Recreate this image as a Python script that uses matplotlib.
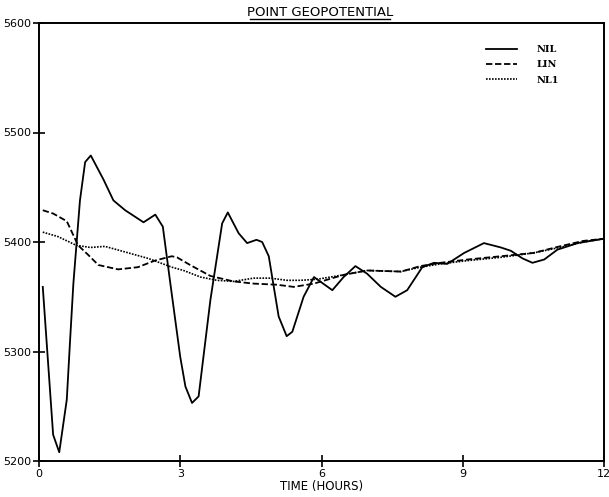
import matplotlib
matplotlib.use("Agg")
import matplotlib.pyplot as plt
from matplotlib.lines import Line2D

# ---- data ----
t_nil = [0.08, 0.30, 0.43, 0.59, 0.66, 0.73, 0.87, 0.98, 1.10, 1.37, 1.58, 1.83, 2.22, 2.47,
         2.63, 2.79, 3.00, 3.11, 3.25, 3.39, 3.64, 3.89, 4.01, 4.24, 4.42, 4.62, 4.74,
         4.88, 5.09, 5.26, 5.38, 5.62, 5.84, 6.23, 6.47, 6.72, 6.97, 7.26, 7.57, 7.82,
         8.14, 8.39, 8.67, 9.03, 9.45, 9.81, 10.02, 10.27, 10.48, 10.73, 11.01, 11.44, 12.0]
v_nil = [5359, 5224, 5208, 5256, 5310, 5362, 5438, 5473, 5479, 5457, 5438, 5429, 5418, 5425,
         5414, 5362, 5295, 5268, 5253, 5259, 5347, 5417, 5427, 5408, 5399, 5402, 5400,
         5387, 5332, 5314, 5318, 5350, 5368, 5356, 5368, 5378, 5371, 5359, 5350, 5356,
         5377, 5381, 5380, 5390, 5399, 5395, 5392, 5385, 5381, 5384, 5393, 5399, 5403]

t_lin = [0.08, 0.30, 0.59, 0.83, 1.05, 1.26, 1.68, 2.10, 2.46, 2.82, 2.93, 3.21, 3.64, 4.13,
         4.56, 5.05, 5.41, 5.84, 6.47, 6.97, 7.69, 8.10, 8.53, 9.10, 9.81, 10.50, 11.06,
         11.56, 12.0]
v_lin = [5429, 5426, 5419, 5397, 5388, 5379, 5375, 5377, 5383, 5387, 5386, 5379, 5369, 5364,
         5362, 5361, 5359, 5362, 5370, 5374, 5373, 5378, 5381, 5384, 5387, 5390, 5396,
         5401, 5403]

t_nl1 = [0.08, 0.40, 0.79, 1.09, 1.40, 1.82, 2.32, 2.82, 3.07, 3.43, 3.78, 4.13, 4.56, 4.91,
         5.27, 5.55, 5.91, 6.47, 6.97, 7.69, 8.10, 8.53, 9.10, 9.81, 10.50, 11.06, 11.56, 12.0]
v_nl1 = [5409, 5405, 5397, 5395, 5396, 5391, 5385, 5377, 5374, 5368, 5365, 5364, 5367, 5367,
         5365, 5365, 5366, 5370, 5374, 5373, 5377, 5380, 5383, 5386, 5390, 5395, 5400, 5403]

x_ticks = [0, 3, 6, 9, 12]
y_ticks = [5200, 5300, 5400, 5500, 5600]
series_names = ["NIL", "LIN", "NL1"]
title = "POINT GEOPOTENTIAL"
x_label = "TIME (HOURS)"

# ---- figure ----
W, H = 609, 497
fig = plt.figure(figsize=(W / 100, H / 100), dpi=100)
ax = fig.add_axes([39 / W, 1 - 461 / H, (604 - 39) / W, (461 - 23) / H])

ax.plot(t_nil, v_nil, color="black", lw=1.3, ls="-", label=series_names[0])
ax.plot(t_lin, v_lin, color="black", lw=1.3, ls=(0, (3.5, 1.5)), label=series_names[1])
ax.plot(t_nl1, v_nl1, color="black", lw=1.2, ls=(0, (1, 0.8)), label=series_names[2])

ax.set_xlim(0, 12)
ax.set_ylim(5200, 5600)
ax.set_xticks(x_ticks)
ax.set_yticks(y_ticks)
ax.set_xticklabels([str(v) for v in x_ticks])
ax.set_yticklabels([str(v) for v in y_ticks])
for lab in ax.get_xticklabels() + ax.get_yticklabels():
    lab.set_fontfamily("DejaVu Sans")
    lab.set_fontsize(8)
ax.tick_params(direction="inout", length=9, width=1.2, pad=1, colors="black")
for s in ax.spines.values():
    s.set_linewidth(1.4)

ax.set_xlabel(x_label, fontsize=8.5, family="DejaVu Sans", labelpad=1)

# title with underline
fig.text(320 / W, 1 - 12 / H, title, ha="center", va="center",
         fontsize=9.5, family="DejaVu Sans")
fig.add_artist(Line2D([250 / W, 390 / W], [1 - 19 / H, 1 - 19 / H],
                      transform=fig.transFigure, color="black", lw=1.0))

leg = ax.legend(loc="upper left", bbox_to_anchor=(486 / W, 1 - 45 / H),
                bbox_transform=fig.transFigure, frameon=False,
                handlelength=3.2, handletextpad=2.0, labelspacing=0.65,
                borderpad=0, borderaxespad=0,
                prop=dict(family="DejaVu Serif", weight="bold", size=7))

fig.savefig("out.png", dpi=100)
